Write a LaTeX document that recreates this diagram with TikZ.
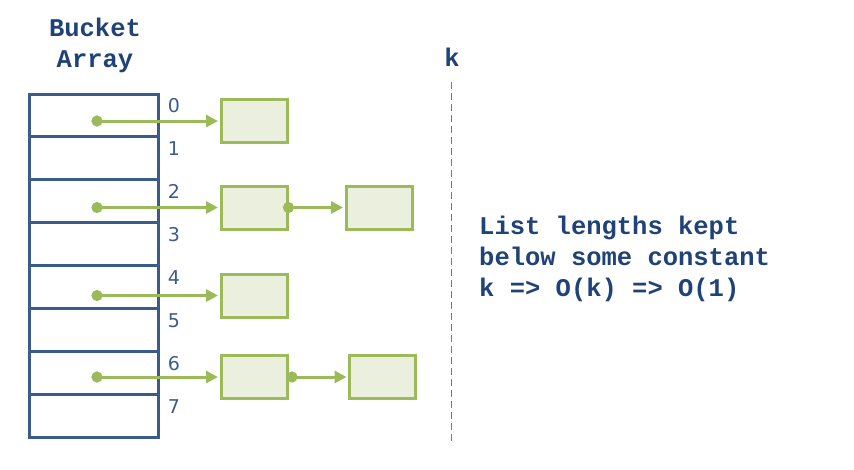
\documentclass[tikz,border=0pt]{standalone}
\usepackage{fontspec}
\setmainfont{DejaVu Sans}
\setmonofont{Liberation Mono}
\usetikzlibrary{arrows.meta}
\usetikzlibrary{positioning}

\definecolor{arrayblue}{HTML}{3B5C8A}
\definecolor{textblue}{HTML}{1F4278}
\definecolor{listgreen}{HTML}{9BBB59}
\definecolor{listfill}{HTML}{EBF0DE}
\definecolor{dashblue}{HTML}{5A7CA8}

\tikzset{
    bucket/.style={rectangle, draw=arrayblue, line width=3pt, minimum width=129pt, minimum height=42.9pt, inner sep=0pt},
    entry/.style={rectangle, draw=listgreen, fill=listfill, line width=3pt, minimum width=66pt, minimum height=43pt, inner sep=0pt},
    ptr/.style={draw=listgreen, line width=3pt, {Circle[length=11pt]}-{Triangle[length=12pt,width=12pt]}},
    idx/.style={text=arrayblue, font=\fontsize{19}{23}\selectfont, inner sep=0pt},
    title/.style={text=textblue, font=\ttfamily\bfseries\fontsize{25.5}{31}\selectfont, inner sep=0pt}
}

\begin{document}
\begin{tikzpicture}[x=1pt, y=-1pt]
    \useasboundingbox (0,0) rectangle (854,469);

    % bucket array and indices
    \draw (95, 45) node[title, align=center] (head) {Bucket\\Array};
    \foreach \row in {0,...,7}{
        \draw (93.5, 115.5 + 42.9*\row) node[bucket] (cell\row) {};
        \draw (174, 106 + 42.9*\row) node[idx] (idx\row) {\row};
    }

    % first entry of each used bucket
    \foreach \row/\y in {0/121, 2/207.5, 4/295.5, 6/377}{
        \draw (254, \y) node[entry] (box\row) {};
        \coordinate (dot\row) at (91.5, \y);
        \draw[ptr] (dot\row) -- ([xshift=-1.5pt]box\row.west);
    }

    % second entries
    \draw (379, 207.5) node[entry] (box2b) {};
    \draw (382.5, 377) node[entry] (box6b) {};
    \draw[ptr] ([xshift=-5.5pt]box2.east) -- ([xshift=-1.5pt]box2b.west);
    \draw[ptr] ([xshift=-2pt]box6.east) -- ([xshift=-1.5pt]box6b.west);

    % threshold k
    \draw (452, 57) node[title] (klabel) {k};
    \coordinate (ktop) at (451, 82);
    \coordinate (kbot) at (451, 445);
    \draw[dashblue, line width=1pt, dash pattern=on 7pt off 4pt] (ktop) -- (kbot);

    \draw (479, 259) node[title, anchor=west, align=left] (note) {List lengths kept\\below some constant\\k => O(k) => O(1)};
\end{tikzpicture}
\end{document}
